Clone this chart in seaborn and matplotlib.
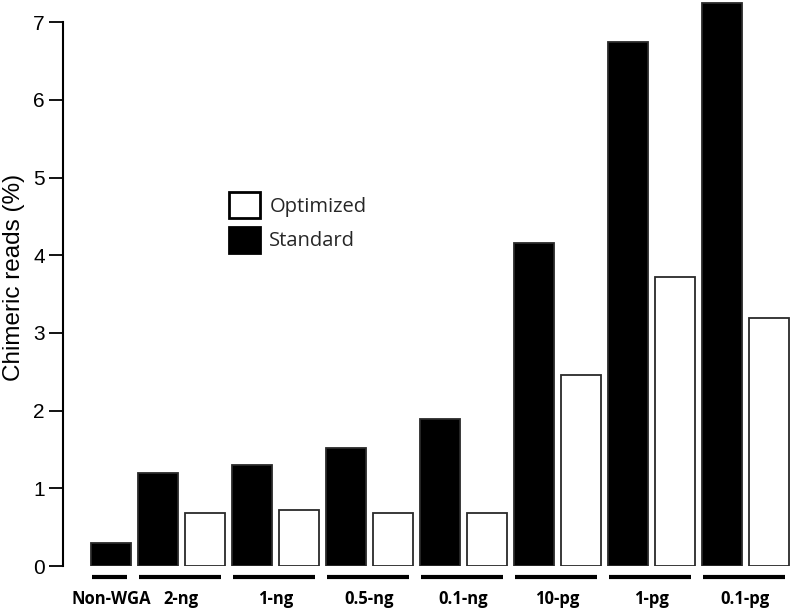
import matplotlib
matplotlib.use("Agg")
import matplotlib.pyplot as plt
import numpy as np
import pandas as pd
import seaborn as sns

# =============================================================================
# Data
# =============================================================================
groups = ["Non-WGA", "2-ng", "1-ng", "0.5-ng", "0.1-ng", "10-pg", "1-pg", "0.1-pg"]
standard = [0.30, 1.20, 1.30, 1.52, 1.89, 4.16, 6.74, 7.25]
optimized = [np.nan, 0.68, 0.72, 0.68, 0.68, 2.46, 3.72, 3.19]
y_ticks = [0, 1, 2, 3, 4, 5, 6, 7]

# one row per bar, bars laid out left to right in a single run
rows = []
slot = 0
for g, s, o in zip(groups, standard, optimized):
    rows.append({"group": g, "condition": "Standard", "value": s, "slot": slot})
    slot += 1
    if not np.isnan(o):
        rows.append({"group": g, "condition": "Optimized", "value": o, "slot": slot})
        slot += 1
df = pd.DataFrame(rows)

# =============================================================================
# Style
# =============================================================================
sns.set_theme(style="white")
plt.rcParams["font.family"] = ["Liberation Sans", "DejaVu Sans"]

W, H = 792, 609
fig = plt.figure(figsize=(W / 100, H / 100), dpi=100)
ax_left, ax_bottom = 63, 566
ax = fig.add_axes([ax_left / W, (H - ax_bottom) / H, (W - ax_left) / W, ax_bottom / H])

sns.barplot(
    data=df,
    x="slot",
    y="value",
    hue="condition",
    hue_order=["Optimized", "Standard"],
    palette={"Standard": "black", "Optimized": "white"},
    dodge=False,
    width=0.84,
    edgecolor="#2a2a2a",
    linewidth=1.3,
    ax=ax,
)

ax.set_xlim(-1.02, 14.49)
ax.set_ylim(0, 7.285)

# axes cosmetics
for side in ["top", "right", "bottom"]:
    ax.spines[side].set_visible(False)
ax.spines["left"].set_bounds(0, 7)
ax.spines["left"].set_linewidth(1.5)
ax.spines["left"].set_color("black")
ax.set_yticks(y_ticks)
ax.set_yticklabels([str(t) for t in y_ticks])
ax.tick_params(axis="y", length=10, width=1.3, pad=3, labelsize=15,
               left=True, color="black", labelcolor="black")
ax.set_xticks([])
ax.set_xlabel("")
ax.set_ylabel("Chimeric reads (%)", fontsize=17.5, color="black")
ax.yaxis.set_label_coords(-0.052, 0.51)

# group lines and labels under the bars
for g in groups:
    slots = df.loc[df["group"] == g, "slot"]
    start, end = slots.min() - 0.4, slots.max() + 0.35
    ax.plot([start, end], [-0.14, -0.14], color="black", lw=3,
            solid_capstyle="butt", clip_on=False)
    ax.text((slots.min() + slots.max()) / 2, -0.49, g, ha="center", va="baseline",
            fontsize=12, fontweight="bold", family="Open Sans", color="black")

# legend: Optimized above Standard
handles, labels = ax.get_legend_handles_labels()
leg = ax.legend(
    handles, labels,
    loc="upper left",
    bbox_to_anchor=(229 / W, 1 - 192 / H),
    bbox_transform=fig.transFigure,
    frameon=False,
    borderpad=0,
    borderaxespad=0,
    handlelength=1.55,
    handleheight=1.6,
    handletextpad=0.45,
    labelspacing=0.45,
    prop={"family": "Open Sans", "size": 14.5},
)
for patch in leg.get_patches():
    patch.set_edgecolor("black")
    patch.set_linewidth(2)

fig.savefig("out.png", dpi=100)
plt.close(fig)
